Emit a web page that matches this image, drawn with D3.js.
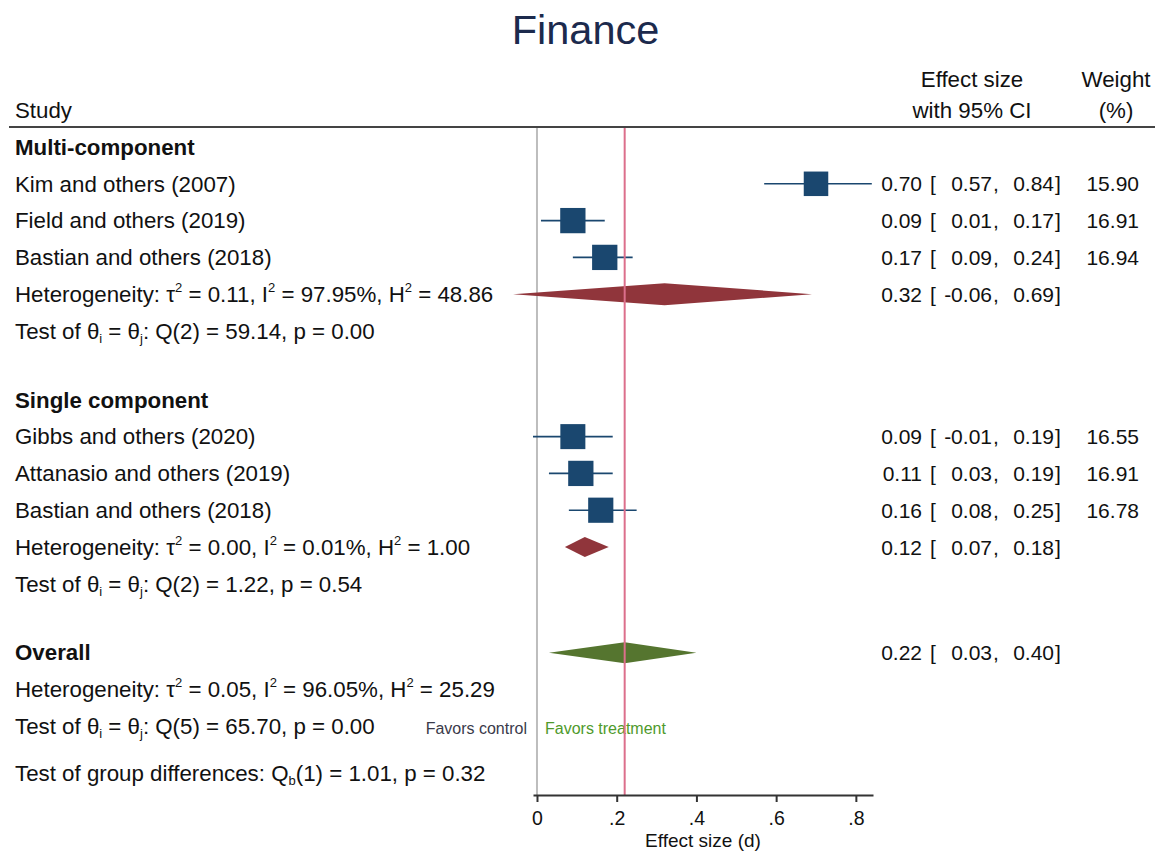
<!DOCTYPE html>
<html>
<head>
<meta charset="utf-8">
<script src="https://cdn.jsdelivr.net/npm/d3@7"></script>
<style>
  body { margin: 0; background: #fff; }
  svg { display: block; font-family: "Liberation Sans", Arial, sans-serif; }
</style>
</head>
<body>
<div id="chart"></div>
<script>
// Study rows
const studyNames = ['Kim and others (2007)', 'Field and others (2019)', 'Bastian and others (2018)',
  'Gibbs and others (2020)', 'Attanasio and others (2019)', 'Bastian and others (2018)'];
const studyGroup = [0, 0, 0, 1, 1, 1];
const studyES = [0.70, 0.09, 0.17, 0.09, 0.11, 0.16];
const studyLo = [0.57, 0.01, 0.09, -0.01, 0.03, 0.08];
const studyHi = [0.84, 0.17, 0.24, 0.19, 0.19, 0.25];
const studyWeight = [15.90, 16.91, 16.94, 16.55, 16.91, 16.78];

// Subgroup summaries
const groupNames = ['Multi-component', 'Single component'];
const groupES = [0.32, 0.12];
const groupLo = [-0.06, 0.07];
const groupHi = [0.69, 0.18];
const groupTau2 = ['0.11', '0.00'];
const groupI2 = ['97.95', '0.01'];
const groupH2 = ['48.86', '1.00'];
const groupQdf = [2, 2];
const groupQ = ['59.14', '1.22'];
const groupP = ['0.00', '0.54'];

// Overall
const overallES = 0.22, overallLo = 0.03, overallHi = 0.40;
const overallTau2 = '0.05', overallI2 = '96.05', overallH2 = '25.29';
const overallQdf = 5, overallQ = '65.70', overallP = '0.00';
const betweenQdf = 1, betweenQ = '1.01', betweenP = '0.32';

const axisTicks = [0, 0.2, 0.4, 0.6, 0.8];

const W = 1155, H = 851;
const svg = d3.select('#chart').append('svg').attr('width', W).attr('height', H);

const x = d3.scaleLinear().domain([-0.01, 0.843]).range([533, 873]);
const y = d3.scaleLinear().domain([0, 1]).range([147, 183.8]);
const size = d3.scaleSqrt().domain([0, 16.94]).range([0, 25.3]);

const FS = 22.3;   // labels and headers
const NFS = 21;    // numeric columns
const navy = '#1a476f', maroon = '#90353b', green = '#55752f';
const fmt = v => v.toFixed(2);

// build row slots
const rows = [];
let s = 0;
groupNames.forEach((g, gi) => {
  rows.push({ type: 'header', label: g, slot: s++ });
  studyNames.forEach((n, i) => {
    if (studyGroup[i] === gi) rows.push({ type: 'study', i, slot: s++ });
  });
  rows.push({ type: 'het', gi, slot: s++ });
  rows.push({ type: 'test', gi, slot: s });
  s += 1.87;
});
rows.push({ type: 'overall', slot: s });
rows.push({ type: 'ohet', slot: s + 1 });
rows.push({ type: 'otest', slot: s + 2 });
rows.push({ type: 'between', slot: s + 3.28 });

const axisY = 795, topY = 127;

// title
svg.append('text').attr('x', 585.5).attr('y', 44).attr('text-anchor', 'middle')
  .attr('font-size', 41.5).attr('fill', '#1c2a4d').text('Finance');

// column headers
const hdr = (tx, ty, t, anchor) => svg.append('text').attr('x', tx).attr('y', ty)
  .attr('text-anchor', anchor).attr('font-size', FS).attr('fill', '#111').text(t);
hdr(15, 118, 'Study', 'start');
hdr(972, 87, 'Effect size', 'middle');
hdr(972, 118, 'with 95% CI', 'middle');
hdr(1116, 87, 'Weight', 'middle');
hdr(1116, 118, '(%)', 'middle');
svg.append('line').attr('x1', 9).attr('x2', W).attr('y1', topY).attr('y2', topY)
  .attr('stroke', '#444').attr('stroke-width', 2);

// reference line at zero
svg.append('line').attr('x1', x(0)).attr('x2', x(0)).attr('y1', topY + 1).attr('y2', axisY)
  .attr('stroke', '#bdbdbd').attr('stroke-width', 2);

// rich text helper: segments of [text, 'sup'|'sub'|undefined]
function rich(ty, segs, opts = {}) {
  const t = svg.append('text').attr('x', opts.x || 15).attr('y', ty)
    .attr('font-size', FS).attr('fill', '#111')
    .attr('font-weight', opts.bold ? 'bold' : null);
  let shift = 0;
  segs.forEach(([str, kind]) => {
    const target = kind === 'sup' ? -10 : kind === 'sub' ? 4 : 0;
    t.append('tspan').attr('dy', target - shift).attr('fill', '#111')
      .attr('font-size', kind ? 13 : null).text(str);
    shift = target;
  });
}

function hetText(ty, tau, i2, h2) {
  rich(ty, [['Heterogeneity: τ'], ['2', 'sup'], [' = ' + tau + ', I'], ['2', 'sup'],
    [' = ' + i2 + '%, H'], ['2', 'sup'], [' = ' + h2]]);
}
function testText(ty, df, q, p) {
  rich(ty, [['Test of θ'], ['i', 'sub'], [' = θ'], ['j', 'sub'], [': Q(' + df + ') = ' + q + ', p = ' + p]]);
}

function ciText(ty, es, lo, hi, w) {
  const g = svg.append('g').attr('font-size', NFS).attr('fill', '#111');
  g.append('text').attr('x', 922).attr('y', ty).attr('text-anchor', 'end').text(fmt(es));
  g.append('text').attr('x', 930).attr('y', ty).text('[');
  g.append('text').attr('x', 992).attr('y', ty).attr('text-anchor', 'end').text(fmt(lo));
  g.append('text').attr('x', 993).attr('y', ty).text(',');
  g.append('text').attr('x', 1054).attr('y', ty).attr('text-anchor', 'end').text(fmt(hi));
  g.append('text').attr('x', 1055).attr('y', ty).text(']');
  if (w != null) g.append('text').attr('x', 1139).attr('y', ty).attr('text-anchor', 'end').text(fmt(w));
}

function diamond(cy, es, lo, hi, h, color) {
  svg.append('path')
    .attr('d', `M${x(lo)},${cy} L${x(es)},${cy - h / 2} L${x(hi)},${cy} L${x(es)},${cy + h / 2} Z`)
    .attr('fill', color);
}

const base = 7.8;
rows.forEach(r => {
  const cy = y(r.slot), ty = cy + base;
  if (r.type === 'header') {
    rich(ty, [[r.label]], { bold: true });
  } else if (r.type === 'study') {
    const i = r.i, sz = size(studyWeight[i]);
    rich(ty, [[studyNames[i]]]);
    svg.append('line').attr('x1', x(studyLo[i])).attr('x2', x(studyHi[i]))
      .attr('y1', cy).attr('y2', cy).attr('stroke', navy).attr('stroke-width', 1.6);
    svg.append('rect').attr('x', x(studyES[i]) - sz / 2).attr('y', cy - sz / 2)
      .attr('width', sz).attr('height', sz).attr('fill', navy);
    ciText(cy + 7.5, studyES[i], studyLo[i], studyHi[i], studyWeight[i]);
  } else if (r.type === 'het') {
    const gi = r.gi;
    hetText(ty, groupTau2[gi], groupI2[gi], groupH2[gi]);
    diamond(cy, groupES[gi], groupLo[gi], groupHi[gi], gi === 0 ? 22 : 20, maroon);
    ciText(cy + 7.5, groupES[gi], groupLo[gi], groupHi[gi]);
  } else if (r.type === 'test') {
    testText(ty, groupQdf[r.gi], groupQ[r.gi], groupP[r.gi]);
  } else if (r.type === 'overall') {
    rich(ty, [['Overall']], { bold: true });
    diamond(cy, overallES, overallLo, overallHi, 21, green);
    ciText(cy + 7.5, overallES, overallLo, overallHi);
  } else if (r.type === 'ohet') {
    hetText(ty, overallTau2, overallI2, overallH2);
  } else if (r.type === 'otest') {
    testText(ty, overallQdf, overallQ, overallP);
    svg.append('text').attr('x', 527).attr('y', ty).attr('text-anchor', 'end')
      .attr('font-size', 16).attr('fill', '#3a3a4a').text('Favors control');
    svg.append('text').attr('x', 545).attr('y', ty).attr('font-size', 16)
      .attr('fill', '#4f9a2c').text('Favors treatment');
  } else if (r.type === 'between') {
    rich(ty, [['Test of group differences: Q'], ['b', 'sub'],
      ['(' + betweenQdf + ') = ' + betweenQ + ', p = ' + betweenP]]);
  }
});

// overall effect line
svg.append('line').attr('x1', x(overallES)).attr('x2', x(overallES))
  .attr('y1', topY + 1).attr('y2', axisY).attr('stroke', '#dc6f8c').attr('stroke-width', 2);

// x axis
const ax = svg.append('g').attr('transform', `translate(0,${axisY})`)
  .call(d3.axisBottom(x).tickValues(axisTicks).tickSize(7).tickSizeOuter(0).tickPadding(9)
    .tickFormat(d => d === 0 ? '0' : d3.format('.1f')(d).replace(/^0/, '')));
ax.select('.domain').attr('stroke', '#333').attr('stroke-width', 2);
ax.selectAll('.tick line').attr('stroke', '#333').attr('stroke-width', 2);
ax.selectAll('.tick text').attr('font-size', 19.5).attr('fill', '#111')
  .attr('font-family', '"Liberation Sans", Arial, sans-serif');

svg.append('text').attr('x', (x.range()[0] + x.range()[1]) / 2).attr('y', 847)
  .attr('text-anchor', 'middle').attr('font-size', 19).attr('fill', '#111').text('Effect size (d)');
</script>
</body>
</html>
